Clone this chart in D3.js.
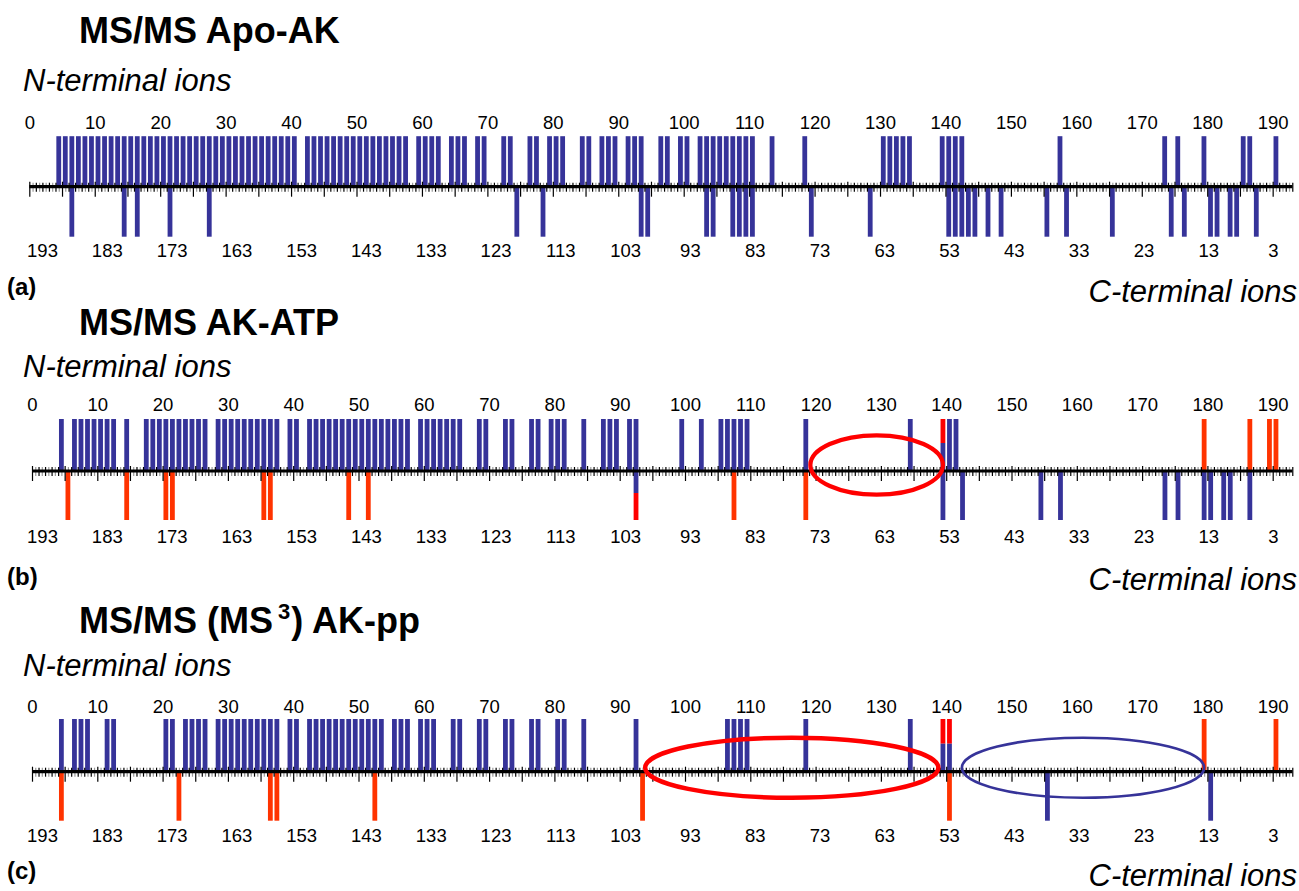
<!DOCTYPE html>
<html lang="en">
<head>
<meta charset="UTF-8">
<title>MS/MS fragment maps</title>
<script src="https://cdn.jsdelivr.net/npm/d3@7"></script>
<style>
  body { margin: 0; background: #fff; }
  text { font-family: "Liberation Sans", Arial, Helvetica, sans-serif; }
</style>
</head>
<body>
<script>
// cleavage sites, numbered by residue k (bar sits between residue k and k+1)
// (a) Apo-AK
var aTop = [4,5,6,7,8,9,10,11,12,13,14,15,16,17,18,19,20,21,22,23,24,25,26,27,28,29,30,31,32,33,34,35,36,37,38,39,40,
  42,43,44,45,46,47,48,49,50,51,52,53,54,55,56,57, 59,60,61,62, 64,65,66, 68,69, 72,73, 76,77, 79,80,81, 84,85,
  87,88,89, 91,92,93, 96,97, 99,100, 102,103,104,105,106,107,108,109,110, 113, 118, 130,131,132,133,134,
  139,140,141,142, 157, 173, 175, 179, 185, 186, 190];
var aBottom = [6, 14, 16, 21, 27, 74, 78, 93, 94, 103, 104, 107, 108, 109, 110, 119, 128,
  140, 141, 142, 143, 144, 146, 148, 155, 158, 165, 174, 176, 180, 181, 183, 184, 187];

// (b) AK-ATP
var bTop = [4, 6,7,8,9,10,11,12, 14, 17,18,19,20,21,22,23,24,25,26, 28,29,30,31,32,33,34,35,36,37, 39,40,
  42,43,44,45,46,47,48,49,50,51,52,53,54,55,56,57, 59,60,61,62,63,64,65, 68,69, 72,73, 76,77, 79,80,81, 84,
  87,88,89, 91,92, 99, 102, 105,106,107,108,109, 118, 134, 140, 141];
var bTopRed = [179, 186, 189, 190];
var bTopMixed = [139];
var bBottom = [139, 142, 154, 157, 173, 175, 179, 180, 182, 183, 186];
var bBottomRed = [5, 14, 20, 21, 35, 36, 48, 51, 107, 118];
var bBottomMixed = [92];

// (c) AK-pp (MS3)
var cTop = [4, 6,7,8, 11,12, 20,21, 23,24,25,26, 28,29,30,31,32,33,34,35,36,37, 39,40,
  42,43,44,45,46,47,48,49,50,51,52,53, 55,56,57, 59,60,61, 64,65, 68,69, 72,73, 76,77, 80,81, 84, 92,
  106,107,108,109, 118, 134];
var cTopRed = [179, 190];
var cTopMixed = [139, 140];
var cBottom = [155, 180];
var cBottomRed = [4, 22, 36, 37, 52, 93, 140];
var cBottomMixed = [];

var nLabels = [0,10,20,30,40,50,60,70,80,90,100,110,120,130,140,150,160,170,180,190];
var cLabels = [193,183,173,163,153,143,133,123,113,103,93,83,73,63,53,43,33,23,13,3];

// circled regions, in residue units
var bRings = [{from: 119.2, to: 139.5, color: "#ff0000", sw: 4.2}];
var cRings = [{from: 93.9, to: 138.8, color: "#ff0000", sw: 4.5},
              {from: 142.4, to: 179.5, color: "#363399", sw: 2.6}];

var BLUE = "#363399", RED = "#ff3300", RED2 = "#ff0000";

var svg = d3.select("body").append("svg")
    .attr("width", 1299)
    .attr("height", 891);

var panels = [
  {tag: "(a)", title: "MS/MS Apo-AK", x0: 29.3, step: 6.544, axisY: 186.7,
   titleY: 43, nY: 91, labY: 129, hUp: 50.5, hDown: 50, clabY: 257, tagY: 295, cY: 302,
   top: aTop, topRed: [], topMixed: [], bottom: aBottom, bottomRed: [], bottomMixed: [], rings: [], ry: 30},
  {tag: "(b)", title: "MS/MS AK-ATP", x0: 32, step: 6.53, axisY: 471,
   titleY: 335, nY: 377, labY: 411, hUp: 52, hDown: 49, clabY: 543, tagY: 585, cY: 590,
   top: bTop, topRed: bTopRed, topMixed: bTopMixed, bottom: bBottom, bottomRed: bBottomRed,
   bottomMixed: bBottomMixed, rings: bRings, ry: 29.7, ringDy: -6},
  {tag: "(c)", title: "MS/MS (MS", sup: "3", after: ") AK-pp", x0: 32, step: 6.53, axisY: 771.7,
   titleY: 633, nY: 676, labY: 713, hUp: 52.7, hDown: 49, clabY: 842, tagY: 879, cY: 886,
   top: cTop, topRed: cTopRed, topMixed: cTopMixed, bottom: cBottom, bottomRed: cBottomRed,
   bottomMixed: cBottomMixed, rings: cRings, ry: 30, ringDy: -4}
];

var bw = 4.8;

panels.forEach(function (p) {
  var x = d3.scaleLinear().domain([0, 193]).range([p.x0, p.x0 + 193 * p.step]);
  var xc = d3.scaleLinear().domain([193, 3]).range([42, 1273]);
  var g = svg.append("g");
  var ay = p.axisY;

  // title
  var t = g.append("text")
      .attr("x", 79).attr("y", p.titleY)
      .attr("font-size", 36).attr("font-weight", "bold")
      .text(p.title);
  if (p.sup) {
    t.append("tspan").attr("dx", 5).attr("dy", -14).attr("font-size", 22).text(p.sup);
    t.append("tspan").attr("dy", 14).attr("dx", 1).text(p.after);
  }

  g.append("text")
      .attr("x", 23).attr("y", p.nY)
      .attr("font-size", 31).attr("font-style", "italic")
      .text("N-terminal ions");

  g.append("text")
      .attr("x", 1297).attr("y", p.cY)
      .attr("text-anchor", "end")
      .attr("font-size", 31).attr("font-style", "italic")
      .text("C-terminal ions");

  g.append("text")
      .attr("x", 7).attr("y", p.tagY)
      .attr("font-size", 24).attr("font-weight", "bold")
      .text(p.tag);

  // faint ticks between residues, under the bars
  var half = d3.range(0, 193).map(function (d) { return d + 0.5; });
  g.append("g").attr("transform", "translate(0," + ay + ")")
      .call(d3.axisBottom(x).tickValues(half).tickSize(5).tickFormat(""))
      .call(function (s) { s.select(".domain").remove(); })
      .selectAll("line").attr("y1", -4).attr("y2", 5)
      .attr("stroke", "#999").attr("stroke-width", 1.2);

  function bars(data, up, color) {
    g.selectAll(null).data(data).enter().append("rect")
        .attr("x", function (d) { return x(d + 0.5) - bw / 2; })
        .attr("y", up ? ay - p.hUp : ay)
        .attr("width", bw)
        .attr("height", up ? p.hUp : p.hDown)
        .attr("fill", color);
  }
  function mixed(data, up) {
    // blue next to the line, red on the far end
    var h = up ? p.hUp : p.hDown;
    var hb = up ? 28 : 22;
    g.selectAll(null).data(data).enter().append("rect")
        .attr("x", function (d) { return x(d + 0.5) - bw / 2; })
        .attr("y", up ? ay - h : ay + hb)
        .attr("width", bw).attr("height", h - hb)
        .attr("fill", RED2);
    g.selectAll(null).data(data).enter().append("rect")
        .attr("x", function (d) { return x(d + 0.5) - bw / 2; })
        .attr("y", up ? ay - hb : ay)
        .attr("width", bw).attr("height", hb)
        .attr("fill", BLUE);
  }
  bars(p.top, true, BLUE);
  bars(p.topRed, true, RED);
  mixed(p.topMixed, true);
  bars(p.bottom, false, BLUE);
  bars(p.bottomRed, false, RED);
  mixed(p.bottomMixed, false);

  // residue ticks
  var minor = d3.range(0, 194).filter(function (d) { return d % 5 !== 0; });
  var major = d3.range(0, 194, 5);
  var ticksG = g.append("g").attr("transform", "translate(0," + ay + ")");
  ticksG.append("g")
      .call(d3.axisBottom(x).tickValues(minor).tickSize(5).tickFormat(""))
      .call(function (s) { s.select(".domain").remove(); })
      .selectAll("line").attr("y1", -4).attr("y2", 5).attr("stroke-width", 1.2);
  ticksG.append("g")
      .call(d3.axisBottom(x).tickValues(major).tickSize(10).tickFormat(""))
      .call(function (s) { s.select(".domain").remove(); })
      .selectAll("line").attr("y1", -5).attr("y2", 10).attr("stroke-width", 1.2);
  g.append("line")
      .attr("x1", x(0)).attr("x2", x(193))
      .attr("y1", ay).attr("y2", ay)
      .attr("stroke", "#000").attr("stroke-width", 3.2);

  // residue numbers
  var topAx = g.append("g").attr("transform", "translate(0," + p.labY + ")")
      .call(d3.axisTop(x).tickValues(nLabels).tickSize(0));
  topAx.select(".domain").remove();
  topAx.selectAll("text").attr("y", 0).attr("dy", 0)
      .attr("font-size", 18.5).attr("fill", "#000").attr("font-family", null);

  var botAx = g.append("g").attr("transform", "translate(0," + p.clabY + ")")
      .call(d3.axisBottom(xc).tickValues(cLabels).tickSize(0));
  botAx.select(".domain").remove();
  botAx.selectAll("text").attr("y", 0).attr("dy", 0)
      .attr("font-size", 18.5).attr("fill", "#000").attr("font-family", null);

  // circled regions
  p.rings.forEach(function (r) {
    var cx = (x(r.from) + x(r.to)) / 2;
    g.append("ellipse")
        .attr("cx", cx).attr("cy", ay + (p.ringDy || 0))
        .attr("rx", (x(r.to) - x(r.from)) / 2).attr("ry", p.ry)
        .attr("fill", "none").attr("stroke", r.color).attr("stroke-width", r.sw);
  });
});
</script>
</body>
</html>
